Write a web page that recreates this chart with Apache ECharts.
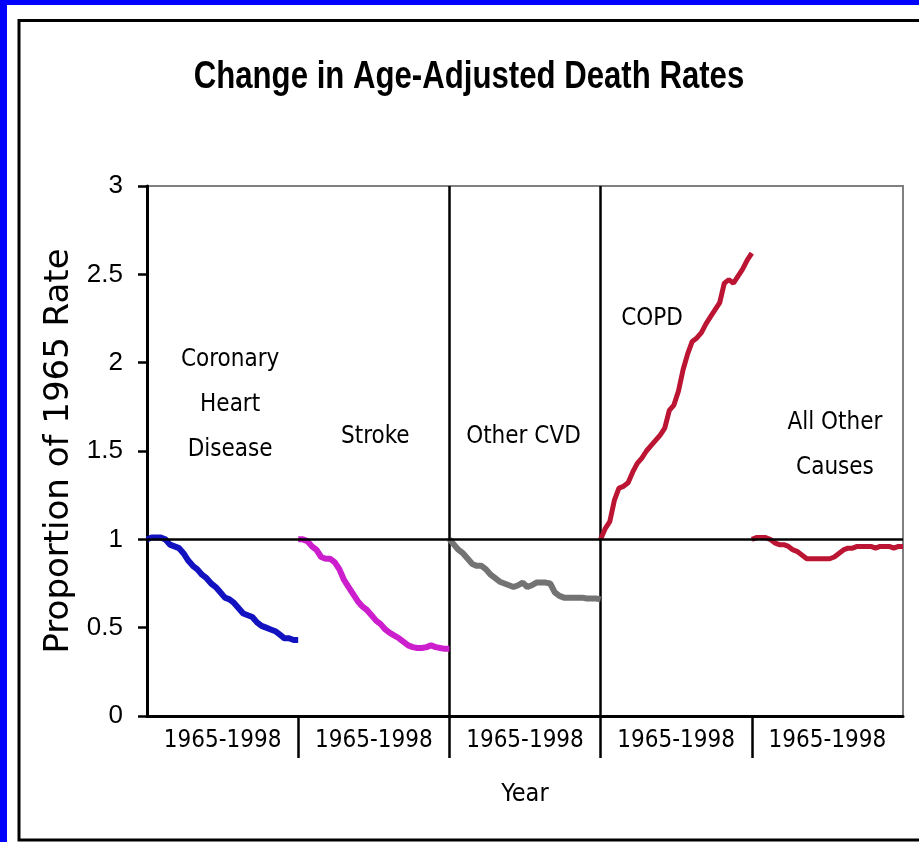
<!DOCTYPE html>
<html>
<head>
<meta charset="utf-8">
<script src="https://cdn.jsdelivr.net/npm/echarts@6/dist/echarts.min.js"></script>
<style>
  body { margin: 0; background: #fff; }
  #main { width: 919px; height: 842px; }
</style>
</head>
<body>
<div id="main"></div>
<script>
// values, one per year 1965..1998
var years = [];
for (var y = 1965; y <= 1998; y++) years.push(y);

var panelNames = ['Coronary\nHeart\nDisease', 'Stroke', 'Other CVD', 'COPD', 'All Other\nCauses'];
var tickLabels = ['1965-1998', '1965-1998', '1965-1998', '1965-1998', '1965-1998'];
var yTicks = [0, 0.5, 1, 1.5, 2, 2.5, 3];

var chd = [1.00, 1.01, 1.01, 1.01, 1.00, 0.97, 0.96, 0.95, 0.92, 0.88, 0.85, 0.83, 0.80, 0.78, 0.75, 0.73, 0.70,
  0.67, 0.66, 0.64, 0.61, 0.58, 0.57, 0.56, 0.53, 0.51, 0.50, 0.49, 0.48, 0.46, 0.44, 0.44, 0.43, 0.43];
var stroke = [1.00, 1.00, 0.99, 0.96, 0.94, 0.90, 0.89, 0.89, 0.87, 0.83, 0.77, 0.73, 0.69, 0.65, 0.62, 0.60, 0.57,
  0.54, 0.52, 0.49, 0.47, 0.455, 0.44, 0.42, 0.40, 0.39, 0.385, 0.385, 0.39, 0.40, 0.39, 0.385, 0.38, 0.38];
var otherCvd = [1.00, 0.97, 0.94, 0.92, 0.89, 0.86, 0.85, 0.85, 0.83, 0.80, 0.78, 0.76, 0.75, 0.74, 0.73, 0.74, 0.755,
  0.73, 0.74, 0.755, 0.755, 0.755, 0.75, 0.70, 0.68, 0.67, 0.67, 0.67, 0.67, 0.67, 0.665, 0.665, 0.665, 0.66];
var copd = [1.00, 1.06, 1.10, 1.22, 1.29, 1.30, 1.32, 1.38, 1.43, 1.46, 1.50, 1.53, 1.56, 1.59, 1.63, 1.73, 1.76,
  1.84, 1.96, 2.05, 2.12, 2.14, 2.17, 2.22, 2.26, 2.30, 2.34, 2.45, 2.47, 2.45, 2.49, 2.53, 2.58, 2.62];
var allOther = [1.00, 1.01, 1.01, 1.01, 1.00, 0.98, 0.97, 0.97, 0.96, 0.94, 0.93, 0.91, 0.89, 0.89, 0.89, 0.89, 0.89,
  0.89, 0.90, 0.92, 0.94, 0.95, 0.95, 0.96, 0.96, 0.96, 0.96, 0.95, 0.96, 0.96, 0.96, 0.95, 0.96, 0.96];

var seriesValues = [chd, stroke, otherCvd, copd, allOther];
var colors = ['#1212C0', '#CC1ECC', '#737373', '#BB1533', '#BB1533'];
var labelSpots = [[0.55, 1.76], [1.51, 1.58], [2.49, 1.58], [3.34, 2.25], [4.55, 1.53]];

var narrow = '"DejaVu Sans Condensed", "Liberation Sans Narrow", sans-serif';

var chart = echarts.init(document.getElementById('main'));

var series = seriesValues.map(function (vals, k) {
  var s = {
    type: 'line',
    symbol: 'none',
    z: 3,
    lineStyle: { color: colors[k], width: k >= 3 ? 5 : 6 },
    data: vals.map(function (v, i) {
      return [k + i / (years.length - 1), v];
    }),
    markPoint: {
      symbol: 'circle',
      symbolSize: 0,
      silent: true,
      label: {
        show: true,
        position: 'inside',
        formatter: panelNames[k],
        color: '#000',
        fontFamily: narrow,
        fontSize: 24,
        lineHeight: 45
      },
      data: [{ coord: labelSpots[k] }]
    }
  };
  if (k === 0) {
    s.markLine = {
      symbol: 'none',
      silent: true,
      label: { show: false },
      lineStyle: { color: '#000', width: 2.5, type: 'solid' },
      data: [{ yAxis: 1 }]
    };
  }
  return s;
});

var option = {
  animation: false,
  backgroundColor: '#fff',
  graphic: [
    { type: 'rect', shape: { x: 0, y: 0, width: 919, height: 5 }, style: { fill: '#0000FF' } },
    { type: 'rect', shape: { x: 0, y: 0, width: 7, height: 842 }, style: { fill: '#0000FF' } },
    { type: 'rect', shape: { x: 19, y: 20.5, width: 960, height: 819.5 }, style: { fill: 'none', stroke: '#000', lineWidth: 3 } },
    {
      type: 'text', x: 469, y: 78, scaleX: 0.82,
      style: {
        text: 'Change in Age-Adjusted Death Rates',
        font: 'bold 38px "Liberation Sans", Arial, sans-serif',
        fill: '#000', align: 'center', verticalAlign: 'middle'
      }
    }
  ],
  grid: {
    left: 147, top: 186, right: 16, bottom: 126,
    show: true, borderColor: '#808080', borderWidth: 2
  },
  xAxis: {
    type: 'value',
    min: 0, max: 5, interval: 1,
    name: 'Year',
    nameLocation: 'middle',
    nameGap: 66,
    nameTextStyle: { fontFamily: narrow, fontSize: 25, color: '#000' },
    axisLine: { show: true, lineStyle: { color: '#000', width: 3 } },
    axisTick: { show: true, customValues: [1, 2, 3, 4], length: 42, lineStyle: { color: '#000', width: 2.5 } },
    axisLabel: {
      customValues: [0.5, 1.5, 2.5, 3.5, 4.5],
      formatter: function (v) { return tickLabels[Math.floor(v)]; },
      fontFamily: narrow, fontSize: 24, color: '#000', margin: 13
    },
    splitLine: { show: true, showMinLine: false, showMaxLine: false, lineStyle: { color: '#000', width: 2.5 } }
  },
  yAxis: {
    type: 'value',
    min: 0, max: 3, interval: 0.5,
    name: 'Proportion of 1965 Rate',
    nameLocation: 'middle',
    nameRotate: 90,
    nameGap: 65,
    nameTextStyle: { fontFamily: '"DejaVu Sans", sans-serif', fontSize: 34, color: '#000' },
    axisLine: { show: true, lineStyle: { color: '#000', width: 3 } },
    axisTick: { show: true, length: 9, lineStyle: { color: '#000', width: 2.5 } },
    axisLabel: {
      fontFamily: '"Liberation Sans", Arial, sans-serif', fontSize: 26, color: '#000', margin: 24,
      formatter: function (v) { return yTicks.indexOf(v) >= 0 ? String(v) : ''; }
    },
    splitLine: { show: false }
  },
  series: series
};

chart.setOption(option);
</script>
</body>
</html>
